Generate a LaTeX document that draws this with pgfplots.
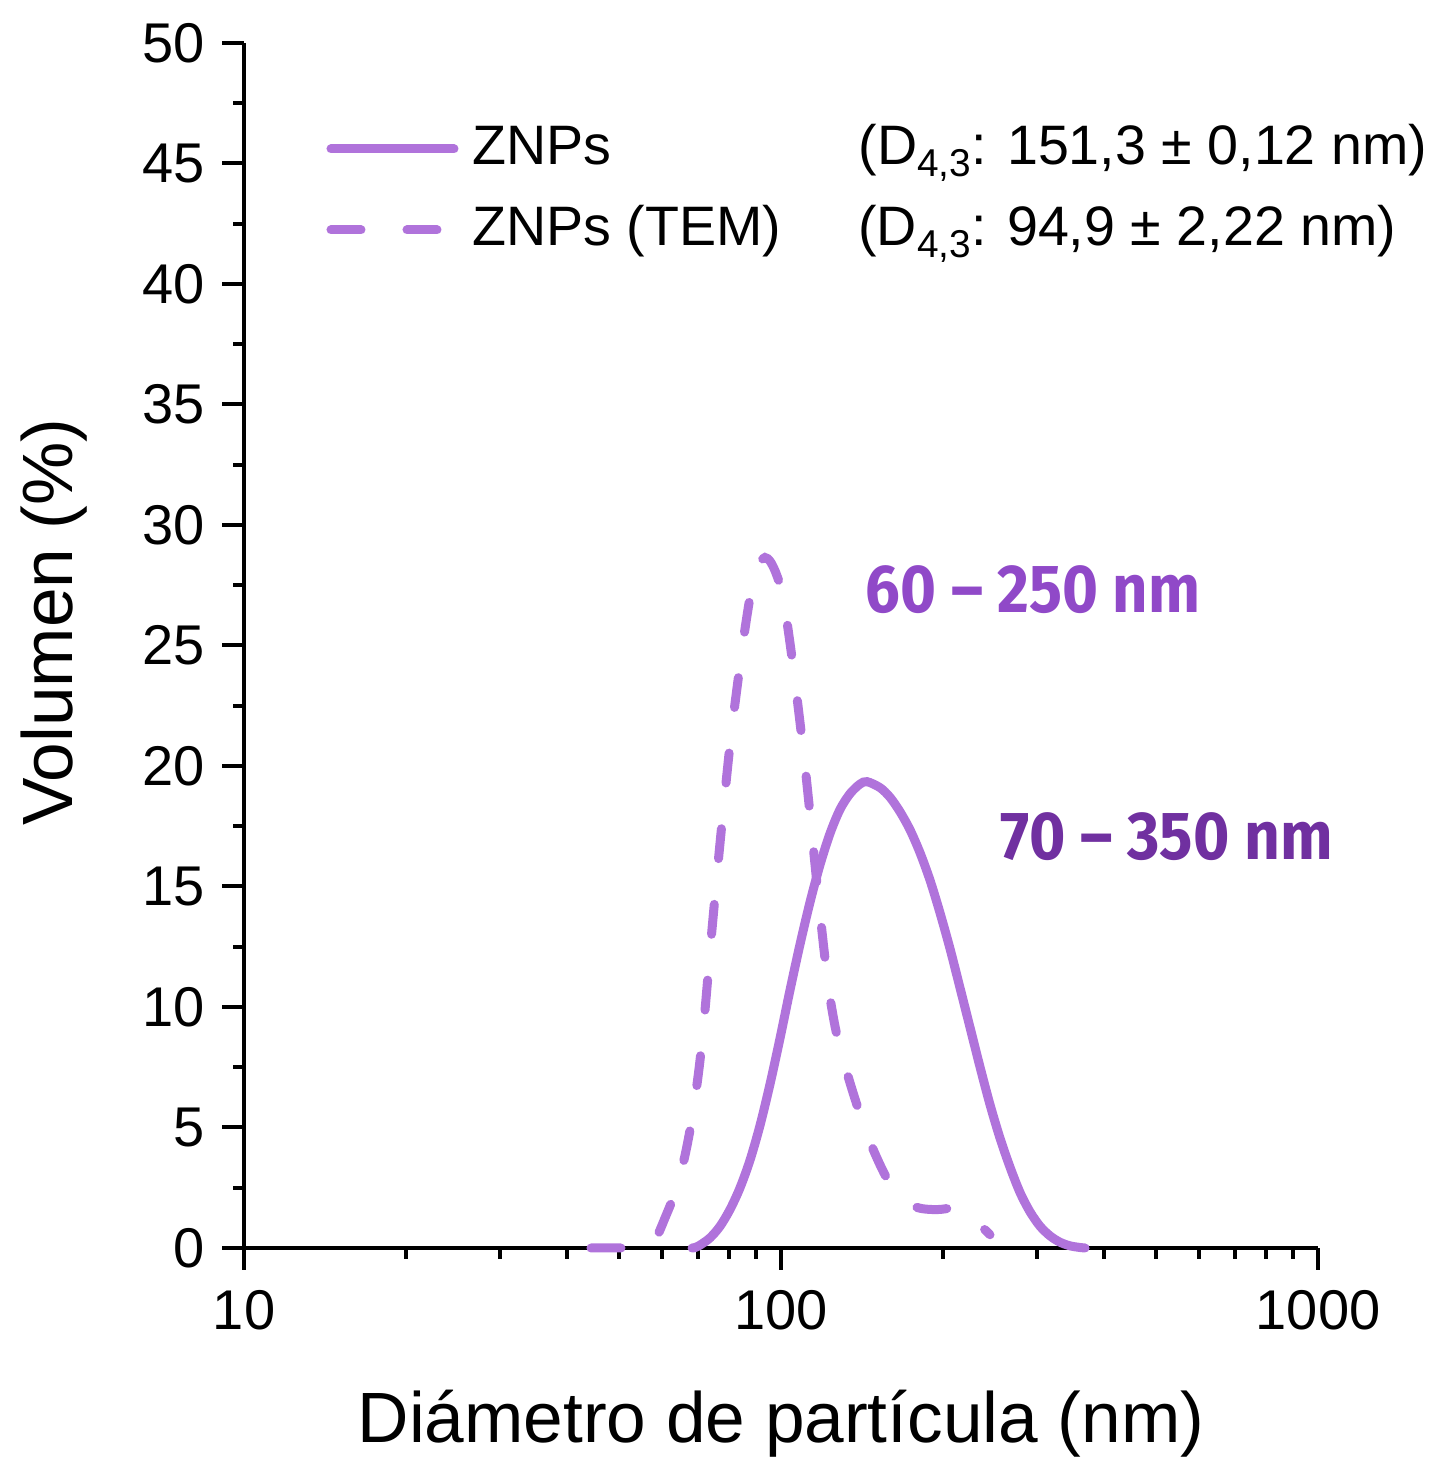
\documentclass[border=0pt]{standalone}
\usepackage{fontspec}
\setmainfont{Liberation Sans}
\newfontfamily\annfont{Fira Sans}
\usepackage{graphicx}
\usepackage{pgfplots}
\pgfplotsset{compat=1.18}
\definecolor{curve}{HTML}{B073DB}
\definecolor{annA}{HTML}{9049C8}
\definecolor{annB}{HTML}{7030A0}
\newcommand\sub[1]{\raisebox{-3pt}{\fontsize{9.7}{10}\selectfont #1}}
\begin{document}
\begin{tikzpicture}
\begin{axis}[name=ax, scale only axis, width=268.5pt, height=301.25pt,
  xmode=log, log basis x=10, xmin=10, xmax=1000, ymin=0, ymax=50,
  enlargelimits=false, clip=false,
  axis x line*=bottom, axis y line*=left,
  axis line style={line width=1pt, black, -},
  tick align=outside, major tick length=5.5pt, minor tick length=2.75pt,
  tick style={line width=1pt, black},
  xtick={10,100,1000}, xticklabels={10,100,1000},
  minor xtick={20,30,40,50,60,70,80,90,200,300,400,500,600,700,800,900},
  ytick={0,5,...,50}, minor ytick={2.5,7.5,...,47.5},
  /pgf/number format/assume math mode=true,
  ticklabel style={font=\fontsize{14}{16}\selectfont},
  xticklabel style={yshift=-1.5pt},
  yticklabel style={xshift=-0.75pt},
  xlabel={Diámetro de partícula (nm)}, ylabel={Volumen (\%)},
  label style={font=\fontsize{17.8}{20}\selectfont},
  xlabel style={at={(axis description cs:0.5,-0.161)}, anchor=base},
  ylabel style={at={(axis description cs:-0.1601,0.5195)}, anchor=base},
  legend cell align=left,
  legend style={draw=none, fill=none, at={(axis description cs:0.0768,0.9336)}, anchor=north west,
    inner sep=0pt, outer sep=0pt, row sep=7.25pt, column sep=3.5pt,
    font=\fontsize{13.9}{16}\selectfont,
    nodes={inner sep=0pt, text height=10.5pt, text depth=2.5pt}},
  legend image code/.code={\draw[#1] (0pt,0pt) -- (30.75pt,0pt);},
]
\addplot[curve, line width=2.25pt, line cap=round, smooth] coordinates {
(68.29,0) (69.17,0.02) (70.67,0.12) (73.76,0.42) (77.00,0.9) (80.37,1.6) (83.89,2.5)
(87.57,3.65) (91.42,5.1) (95.39,6.8) (99.57,8.7) (103.93,10.7) (108.49,12.6) (113.24,14.35)
(118.20,15.9) (123.38,17.2) (128.79,18.2) (134.43,18.85) (140.32,19.25) (144.60,19.35)
(152.9,19.1) (159.6,18.7) (166.6,18.1) (173.9,17.35) (181.5,16.4) (189.5,15.25) (197.8,13.9)
(206.5,12.4) (215.4,10.8) (224.9,9.15) (234.8,7.5) (245.0,5.95) (255.8,4.55) (267.0,3.35)
(278.7,2.3) (290.9,1.5) (303.7,0.9) (317.0,0.5) (330.8,0.24) (345.3,0.09) (360.5,0.02) (368.3,0)
};
\addlegendentry{\makebox[96.5pt][l]{ZNPs}(D\sub{4,3}: 151,3 ± 0,12 nm)}
\addplot[curve, line width=2.25pt, line cap=round, smooth, dash pattern=on 7.5pt off 11.5pt] coordinates {
(44.27,0) (50.13,0) (54.64,0) (57.04,0.1) (58.27,0.3) (59.53,0.75) (60.82,1.25) (62.14,1.75)
(63.49,2.3) (64.86,3.0) (66.27,3.85) (67.70,4.9) (69.17,6.2) (70.67,7.8) (72.21,9.9)
(73.76,12.3) (75.37,14.6) (77.00,16.8) (78.67,18.9) (80.37,20.9) (82.11,22.6) (83.89,24.2)
(85.71,25.7) (87.57,27.0) (89.46,27.9) (91.42,28.45) (93.37,28.65) (95.39,28.5) (97.46,28.1)
(99.57,27.5) (101.73,26.5) (103.93,25.1) (106.19,23.5) (108.49,21.8) (110.84,20.0) (113.24,18.0)
(115.70,15.9) (118.20,13.9) (120.77,12.0) (123.38,10.4) (126.06,9.2) (128.79,8.3) (134.43,6.85)
(140.32,5.55) (146.5,4.4) (152.9,3.45) (159.6,2.65) (166.6,2.1) (173.9,1.8) (181.5,1.65)
(189.5,1.6) (197.8,1.6) (206.5,1.65) (215.4,1.65) (224.9,1.35) (234.8,0.95) (245.0,0.55)
};
\addlegendentry{\makebox[96.5pt][l]{ZNPs (TEM)}(D\sub{4,3}: 94,9 ± 2,22 nm)}
\node[anchor=base west, inner sep=0pt, text=annA, font=\annfont\bfseries\fontsize{17}{20}\selectfont] at (axis cs:143.3,26.35) {\scalebox{0.905}[1]{60 – 250 nm}};
\node[anchor=base west, inner sep=0pt, text=annB, font=\annfont\bfseries\fontsize{17}{20}\selectfont] at (axis cs:255.7,16.1) {\scalebox{0.915}[1]{70 – 350 nm}};
\end{axis}
\pgfresetboundingbox
\path[use as bounding box] ([shift={(-61pt,-52.75pt)}]ax.south west) rectangle ([shift={(28.75pt,10.75pt)}]ax.north east);
\end{tikzpicture}
\end{document}
